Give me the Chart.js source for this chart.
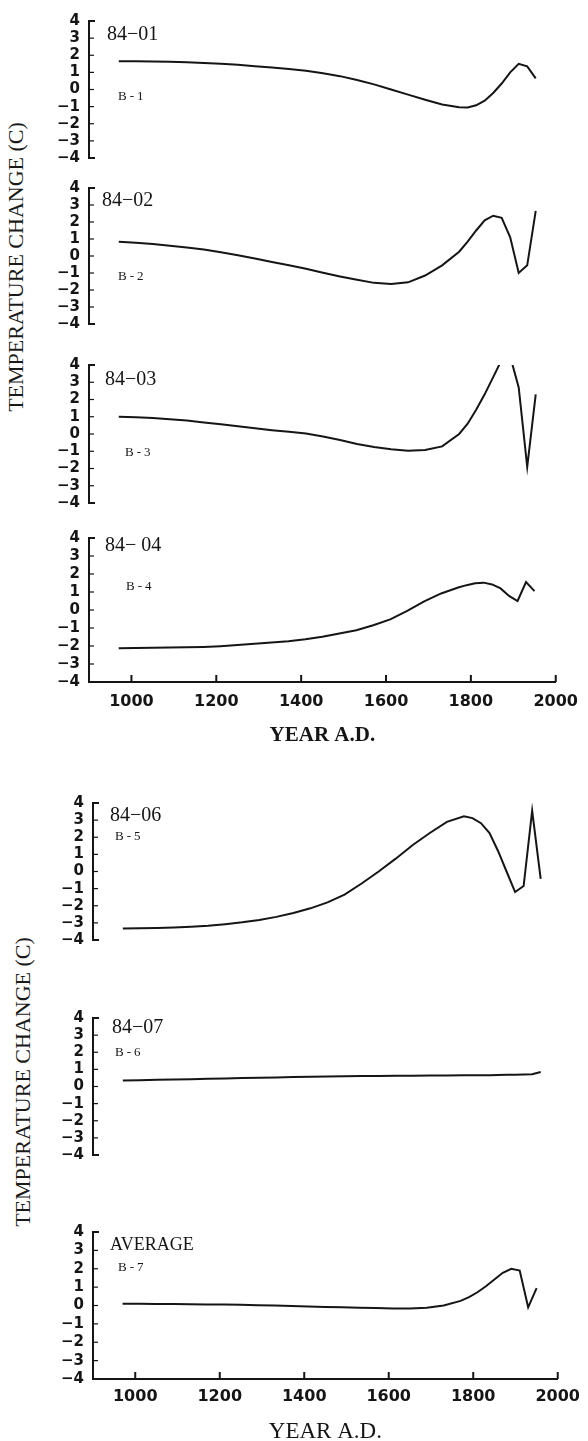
<!DOCTYPE html>
<html>
<head>
<meta charset="utf-8">
<script src="https://cdn.jsdelivr.net/npm/chart.js@4.4.1/dist/chart.umd.min.js"></script>
<style>
  body { margin: 0; width: 588px; height: 1441px; background: #fff; position: relative; overflow: hidden; }
  canvas { position: absolute; left: 0; }
  .ytitle {
    position: absolute;
    font: 22px "Liberation Serif", serif;
    color: #1a1a1a;
    white-space: nowrap;
    transform: translate(-50%, -50%) rotate(-90deg);
  }
</style>
</head>
<body>
<div class="ytitle" style="left:16px; top:267px;">TEMPERATURE CHANGE (C)</div>
<div class="ytitle" style="left:23px; top:1082px;">TEMPERATURE CHANGE (C)</div>

<script>
// sample years shared by every core
const years = [970, 1010, 1050, 1090, 1130, 1170, 1210, 1250, 1290, 1330,
               1370, 1410, 1450, 1490, 1530, 1570, 1610, 1650, 1690, 1730,
               1770, 1790, 1810, 1830, 1850, 1870, 1890, 1910, 1930, 1950];

// temperature change (C) per core
const series8401 = [1.65, 1.65, 1.64, 1.62, 1.59, 1.55, 1.50, 1.44, 1.36, 1.28,
                    1.20, 1.10, 0.95, 0.78, 0.55, 0.30, 0.00, -0.30, -0.60, -0.88,
                    -1.03, -1.05, -0.92, -0.65, -0.20, 0.35, 1.00, 1.50, 1.35, 0.65];
const series8402 = [0.84, 0.78, 0.70, 0.60, 0.50, 0.38, 0.22, 0.05, -0.15, -0.35,
                    -0.55, -0.75, -0.98, -1.20, -1.40, -1.58, -1.65, -1.55, -1.15, -0.55,
                    0.25, 0.85, 1.50, 2.10, 2.37, 2.25, 1.10, -1.00, -0.55, 2.65];
const series8403 = [1.00, 0.97, 0.93, 0.86, 0.78, 0.67, 0.56, 0.45, 0.33, 0.22,
                    0.13, 0.03, -0.15, -0.35, -0.58, -0.75, -0.88, -0.97, -0.93, -0.72,
                    0.00, 0.60, 1.40, 2.30, 3.30, 4.30, 4.50, 2.70, -1.90, 2.30];
const series8404 = [-2.12, -2.11, -2.10, -2.09, -2.07, -2.05, -2.01, -1.95, -1.88, -1.80,
                    -1.73, -1.63, -1.48, -1.30, -1.12, -0.85, -0.52, -0.05, 0.48, 0.92,
                    1.25, 1.38, 1.48, 1.52, 1.42, 1.20, 0.78, 0.50, 1.55, 1.05];
const series8406 = [-3.33, -3.32, -3.30, -3.27, -3.23, -3.17, -3.08, -2.97, -2.83, -2.65,
                    -2.42, -2.15, -1.80, -1.35, -0.70, 0.00, 0.75, 1.55, 2.25, 2.90,
                    3.23, 3.12, 2.82, 2.25, 1.20, 0.00, -1.20, -0.85, 3.55, -0.43];
const series8407 = [0.35, 0.37, 0.39, 0.41, 0.43, 0.45, 0.47, 0.49, 0.51, 0.53,
                    0.55, 0.57, 0.59, 0.60, 0.61, 0.62, 0.63, 0.63, 0.64, 0.64,
                    0.65, 0.65, 0.66, 0.66, 0.67, 0.68, 0.69, 0.70, 0.72, 0.85];
const seriesAverage = [0.09, 0.09, 0.08, 0.08, 0.07, 0.06, 0.05, 0.04, 0.02, 0.00,
                       -0.03, -0.05, -0.08, -0.10, -0.12, -0.14, -0.16, -0.16, -0.12, 0.00,
                       0.25, 0.45, 0.72, 1.05, 1.42, 1.78, 2.00, 1.90, -0.10, 0.95];

const panelNames = ['84\u221201', '84\u221202', '84\u221203', '84\u2212 04', '84\u221206', '84\u221207', 'AVERAGE'];
const panelTags = ['B-1', 'B-2', 'B-3', 'B-4', 'B-5', 'B-6', 'B-7'];
const yearTicks = [1000, 1200, 1400, 1600, 1800, 2000];
const tempTicks = [-4, -3, -2, -1, 0, 1, 2, 3, 4];

const INK = '#151515';

// small inward ticks on the y axis (bracket look) and upward ticks on the x axis
const innerTicks = {
  id: 'innerTicks',
  afterDraw(chart) {
    const { ctx, chartArea, scales } = chart;
    ctx.save();
    ctx.strokeStyle = INK;
    scales.y.ticks.forEach(t => {
      const y = scales.y.getPixelForValue(t.value);
      const end = Math.abs(t.value) === 4;
      ctx.lineWidth = end ? 2 : 1.2;
      ctx.beginPath();
      ctx.moveTo(chartArea.left, y);
      ctx.lineTo(chartArea.left + (end ? 6 : 5), y);
      ctx.stroke();
    });
    if (scales.x.options.display) {
      ctx.lineWidth = 2;
      scales.x.ticks.forEach(t => {
        const x = scales.x.getPixelForValue(t.value);
        ctx.beginPath();
        ctx.moveTo(x, chartArea.bottom);
        ctx.lineTo(x, chartArea.bottom - 7);
        ctx.stroke();
      });
    }
    ctx.restore();
  }
};

// core id and sample tag written inside each panel
const panelLabel = {
  id: 'panelLabel',
  afterDraw(chart, args, opts) {
    const { ctx, chartArea } = chart;
    ctx.save();
    ctx.fillStyle = INK;
    ctx.textBaseline = 'alphabetic';
    ctx.font = opts.nameFont;
    ctx.fillText(opts.name, chartArea.left + opts.nameAt[0], chartArea.top + opts.nameAt[1]);
    ctx.font = '13px "Liberation Serif"';
    ctx.letterSpacing = '3px';
    ctx.fillText(opts.tag, chartArea.left + opts.tagAt[0], chartArea.top + opts.tagAt[1]);
    ctx.restore();
  }
};

// panel placement on the page
const panels = [
  { values: series8401, top: 13,   bottom: 166,  axisX: 89, endX: 557, nameAt: [18, 19], tagAt: [29, 79] },
  { values: series8402, top: 180,  bottom: 332,  axisX: 89, endX: 557, nameAt: [13, 18], tagAt: [29, 92] },
  { values: series8403, top: 357,  bottom: 511,  axisX: 89, endX: 557, nameAt: [16, 20], tagAt: [36, 91] },
  { values: series8404, top: 530,  bottom: 682,  axisX: 89, endX: 557, nameAt: [16, 13], tagAt: [37, 52],
    xAxis: { boxH: 66, pad: 10, title: { size: 21, weight: 'bold' } } },
  { values: series8406, top: 795,  bottom: 948,  axisX: 93, endX: 562, nameAt: [17, 18], tagAt: [22, 37] },
  { values: series8407, top: 1010, bottom: 1163, axisX: 93, endX: 562, nameAt: [19, 15], tagAt: [22, 38] },
  { values: seriesAverage, top: 1224, bottom: 1379, axisX: 93, endX: 562, nameAt: [17, 18], tagAt: [25, 39],
    xAxis: { boxH: 67, pad: 8, title: { size: 23, weight: 'normal' } } }
];

panels.forEach((p, i) => {
  const pad = 10;
  const canvas = document.createElement('canvas');
  canvas.width = 588;
  canvas.height = (p.bottom - p.top) + pad + (p.xAxis ? p.xAxis.boxH : pad);
  canvas.style.top = (p.top - pad) + 'px';
  document.body.appendChild(canvas);

  new Chart(canvas, {
    type: 'line',
    data: {
      datasets: [{
        data: years.map((yr, k) => ({ x: yr, y: p.values[k] })),
        borderColor: INK,
        borderWidth: 2,
        pointRadius: 0,
        tension: 0
      }]
    },
    options: {
      responsive: false,
      animation: false,
      events: [],
      layout: { padding: { top: pad, bottom: p.xAxis ? 0 : pad, left: 0, right: 588 - p.endX } },
      plugins: {
        legend: { display: false },
        tooltip: { enabled: false },
        panelLabel: {
          name: panelNames[i],
          tag: panelTags[i],
          nameAt: p.nameAt,
          tagAt: p.tagAt,
          nameFont: i === 6 ? '18px "Liberation Serif"' : '20px "Liberation Serif"'
        }
      },
      scales: {
        x: {
          type: 'linear',
          min: 900,
          max: 2000,
          display: !!p.xAxis,
          afterBuildTicks: s => { s.ticks = yearTicks.map(v => ({ value: v })); },
          afterFit: s => { if (p.xAxis) s.height = p.xAxis.boxH; },
          grid: { drawOnChartArea: false, drawTicks: false },
          border: { color: INK, width: 2 },
          ticks: {
            color: INK,
            padding: p.xAxis ? p.xAxis.pad : 0,
            maxRotation: 0,
            autoSkip: false,
            font: { family: 'DejaVu Sans', weight: 'bold', size: 16 },
            callback: v => String(v)
          },
          title: {
            display: !!p.xAxis,
            text: 'YEAR A.D.',
            color: INK,
            padding: { top: 0, bottom: 0 },
            font: p.xAxis ? { family: 'Liberation Serif', size: p.xAxis.title.size, weight: p.xAxis.title.weight } : undefined
          }
        },
        y: {
          min: -4,
          max: 4,
          afterBuildTicks: s => { s.ticks = tempTicks.map(v => ({ value: v })); },
          afterFit: s => { s.width = p.axisX; },
          grid: { drawOnChartArea: false, drawTicks: false },
          border: { color: INK, width: 2 },
          ticks: {
            color: INK,
            padding: 9,
            autoSkip: false,
            font: { family: 'DejaVu Sans', weight: 'bold', size: 15 },
            callback: v => (v < 0 ? '\u2212' + (-v) : String(v))
          }
        }
      }
    },
    plugins: [innerTicks, panelLabel]
  });
});
</script>
</body>
</html>
